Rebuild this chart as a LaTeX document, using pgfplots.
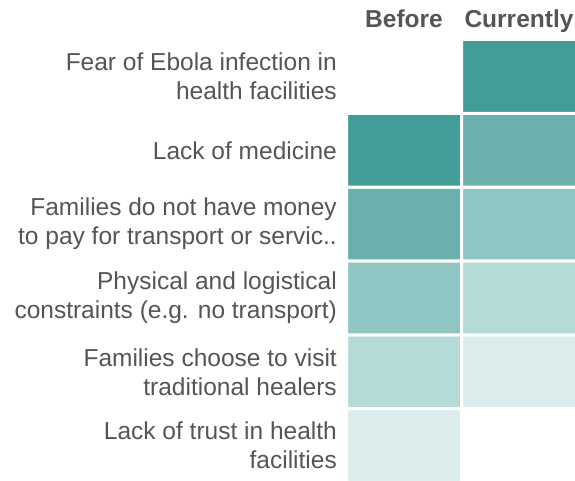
\documentclass[border=0pt]{standalone}
\usepackage{pgfplots}
\pgfplotsset{compat=1.18}
\usepackage{fontspec}
\setmainfont{Liberation Sans}
\definecolor{txtgray}{HTML}{555555}
\begin{document}
\begin{tikzpicture}
\path[use as bounding box] (0,0) rectangle (575pt,481pt);
\begin{axis}[
  at={(346.5pt,-1.5pt)}, anchor=south west,
  scale only axis, width=230pt, height=443pt,
  xmin=-0.5, xmax=1.5, ymin=-0.5, ymax=5.5,
  clip=false,
  axis line style={draw=none},
  major tick style={draw=none},
  xtick={0,1}, xticklabels={Before,Currently},
  xticklabel pos=upper,
  xticklabel style={anchor=base, yshift=11.5pt, font=\fontsize{24.5}{29}\selectfont\bfseries, text=txtgray},
  ytick={0,1,2,3,4,5},
  yticklabels={
    {Lack of trust in health\\facilities},
    {Families choose to visit\\traditional healers},
    {Physical and logistical\\constraints (e.g. no transport)},
    {Families do not have money\\to pay for transport or servic..},
    {Lack of medicine},
    {Fear of Ebola infection in\\health facilities}},
  yticklabel style={align=right, anchor=east, inner sep=0pt, xshift=-9.5pt, font=\fontsize{24.5}{29}\selectfont, text=txtgray},
  colormap={heat}{rgb255=(255,255,255) rgb255=(218,237,236) rgb255=(180,219,216) rgb255=(143,197,194) rgb255=(106,177,173) rgb255=(66,156,152)},
  colormap access=direct,
]
\addplot[matrix plot*, mesh/cols=2, point meta=explicit, draw=white, line width=3pt] table[meta=c] {
x y c
0 0 1
1 0 0
0 1 2
1 1 1
0 2 3
1 2 2
0 3 4
1 3 3
0 4 5
1 4 4
0 5 0
1 5 5
};
\end{axis}
\end{tikzpicture}
\end{document}
